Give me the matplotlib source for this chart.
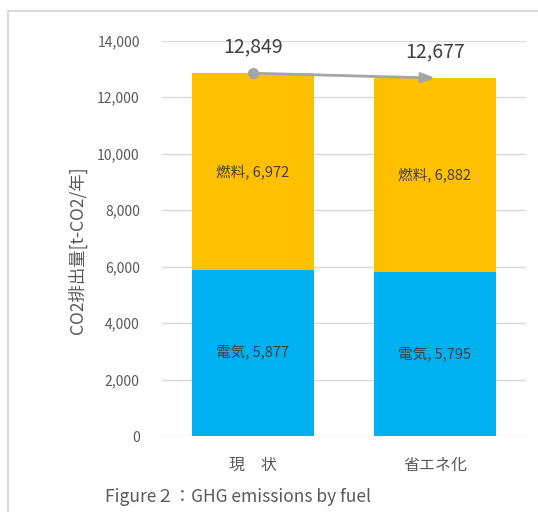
import matplotlib
matplotlib.use('Agg')
import matplotlib.pyplot as plt
from matplotlib.patches import Rectangle

plt.rcParams['font.family'] = ['Noto Sans CJK JP', 'DejaVu Sans']

# CO2 emissions, current vs. after energy saving
categories = ['現　状', '省エネ化']
electricity = [5877, 5795]
fuel = [6972, 6882]
totals = [12849, 12677]
elec_name = '電気'
fuel_name = '燃料'

fig = plt.figure(figsize=(5.38, 5.12), dpi=100)
ax = fig.add_axes([162 / 538, 1 - 436 / 512, 364 / 538, 395.3 / 512])

# frame round the whole chart
fig.patches.append(Rectangle((8 / 538, -0.05), 1.1, (512 - 11) / 512 + 0.05,
                             transform=fig.transFigure, fill=False,
                             edgecolor='#D9D9D9', linewidth=1.5))

x = list(range(len(categories)))
w = 0.67
ax.bar(x, electricity, width=w, color='#00B0F0', zorder=2)
ax.bar(x, fuel, width=w, bottom=electricity, color='#FFC000', zorder=2)

for i in x:
    ax.text(i, electricity[i] / 2, f'{elec_name}, {electricity[i]:,}',
            ha='center', va='center', fontsize=10.5, color='#404040', zorder=3)
    ax.text(i, electricity[i] + fuel[i] / 2, f'{fuel_name}, {fuel[i]:,}',
            ha='center', va='center', fontsize=10.5, color='#404040', zorder=3)
    ax.annotate(f'{totals[i]:,}', (i, totals[i]), xytext=(0, 19),
                textcoords='offset points', ha='center', va='center',
                fontsize=14, color='#404040', zorder=4)

# trend arrow between the two totals
ax.plot([0], [totals[0]], 'o', color='#A5A5A5', markersize=7, zorder=4)
ax.annotate('', xy=(1, totals[1]), xytext=(0, totals[0]),
            arrowprops=dict(arrowstyle='-|>,head_length=0.8,head_width=0.3',
                            color='#A5A5A5', lw=2, shrinkA=0, shrinkB=0),
            zorder=4)

ax.set_xlim(-0.5, 1.5)
ax.set_ylim(0, 14000)
ax.set_yticks(range(0, 14001, 2000))
ax.set_yticklabels([f'{v:,}' for v in range(0, 14001, 2000)])
ax.set_xticks(x)
ax.set_xticklabels(categories, fontsize=11.5)
ax.tick_params(length=0, labelsize=10, colors='#595959')
ax.tick_params(axis='x', labelsize=11.5, pad=15)
ax.tick_params(axis='y', pad=16)
ax.grid(axis='y', color='#D9D9D9', linewidth=1, zorder=0)
for s in ax.spines.values():
    s.set_visible(False)
ax.set_ylabel('CO2排出量[t-CO2/年]', fontsize=12.5, color='#595959')
ax.yaxis.set_label_coords(-0.207, 0.47)

fig.text(105 / 538, 1 - 497 / 512, 'Figure２：GHG emissions by fuel',
         fontsize=12.5, color='#595959', ha='left', va='center')

fig.savefig('out.png', dpi=100)
